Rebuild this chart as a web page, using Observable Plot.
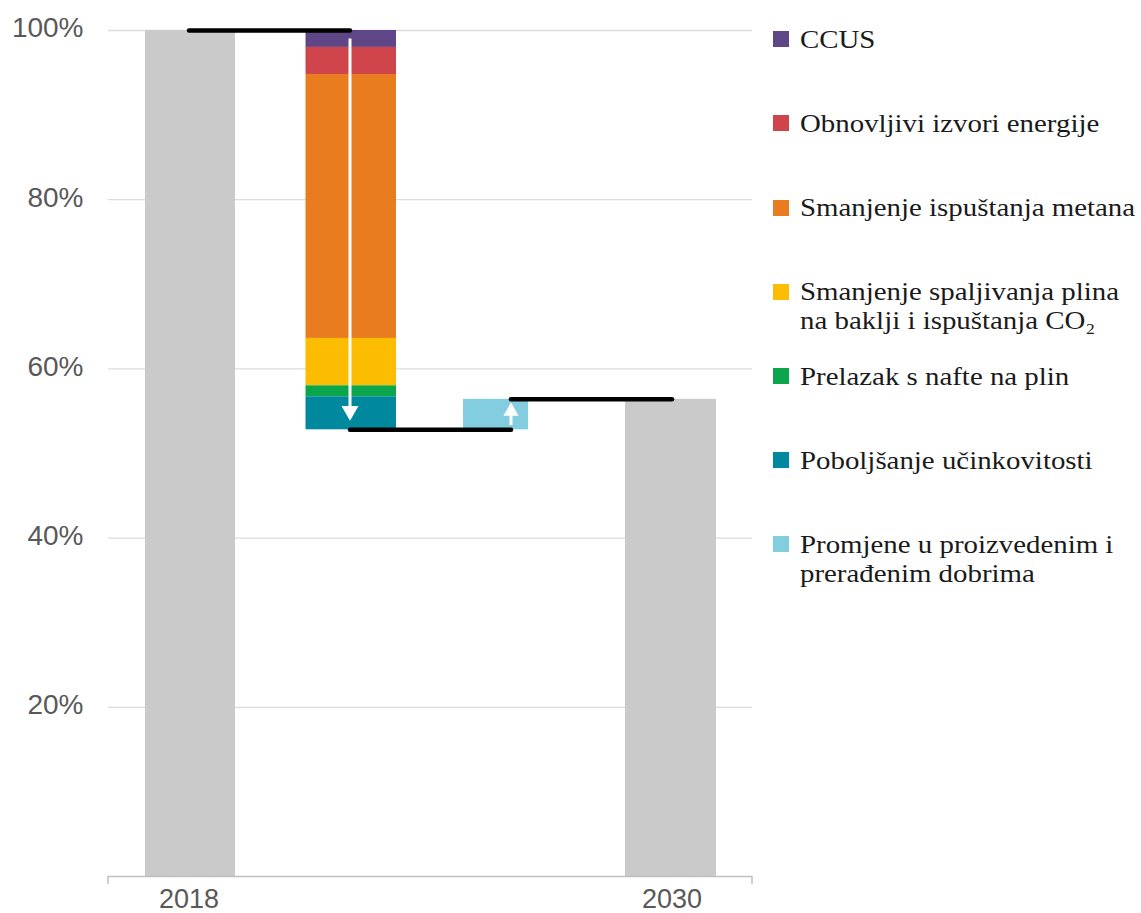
<!DOCTYPE html>
<html>
<head>
<meta charset="utf-8">
<script src="https://cdn.jsdelivr.net/npm/d3@7"></script>
<script src="https://cdn.jsdelivr.net/npm/@observablehq/plot@0.6"></script>
<style>
  html, body { margin: 0; padding: 0; background: #fff; }
  #wrap { position: relative; width: 1141px; height: 913px; overflow: hidden; }
  #chart { position: absolute; left: 0; top: 0; }
  .item { position: absolute; left: 773px; font-family: "Liberation Serif", "Times New Roman", serif; font-size: 26px; line-height: 29px; color: #1a1a1a; white-space: nowrap; }
  .item .sw { position: absolute; left: 0; width: 16px; height: 16px; }
  .item .tx { position: absolute; left: 27px; top: 0; transform: scaleX(1.11); transform-origin: 0 0; }
</style>
</head>
<body>
<div id="wrap"><div id="chart"></div><div id="legend"></div></div>
<script>
// ---- data ----
const categories = ["2018", "Smanjenja", "Promjene", "2030"];
const tickLabels = ["2018", "2030"];
const yTicks = [20, 40, 60, 80, 100];
const startValue = 100;
const reductionNames = [
  "CCUS",
  "Obnovljivi izvori energije",
  "Smanjenje ispuštanja metana",
  "Smanjenje spaljivanja plina\nna baklji i ispuštanja CO₂",
  "Prelazak s nafte na plin",
  "Poboljšanje učinkovitosti"
];
const reductionValues = [2.0, 3.2, 31.2, 5.6, 1.3, 3.9];
const increaseName = "Promjene u proizvedenim i\nprerađenim dobrima";
const increaseValue = 3.6;
const reductionColors = ["#5f4787", "#d0454c", "#e97c1f", "#fcbd00", "#0ba64b", "#00889e"];
const increaseColor = "#82cde0";
const totalColor = "#cacaca";

// ---- derived ----
let level = startValue;
const segments = reductionNames.map((name, i) => {
  const s = {name, y2: level, y1: level - reductionValues[i], fill: reductionColors[i]};
  level = s.y1;
  return s;
});
const low = level;
const high = low + increaseValue;
const startTotal = [{cat: categories[0], value: startValue}];
const endTotal = [{cat: categories[3], value: high}];
const increase = [{cat: categories[2], y1: low, y2: high}];
const connectors = [
  {x1: categories[0], x2: categories[1], y: startValue},
  {x1: categories[1], x2: categories[2], y: low},
  {x1: categories[2], x2: categories[3], y: high}
];

const endTicks = (index, scales, values, dims) => {
  const g = d3.create("svg:g");
  const y0 = dims.height - dims.marginBottom;
  for (const x of [dims.marginLeft, dims.width - dims.marginRight]) {
    g.append("line").attr("x1", x).attr("x2", x).attr("y1", y0).attr("y2", y0 + 8)
      .attr("stroke", "#bfbfbf").attr("stroke-width", 1.5);
  }
  return g.node();
};

const chart = Plot.plot({
  width: 760,
  height: 913,
  marginLeft: 108,
  marginRight: 8,
  marginTop: 30,
  marginBottom: 37,
  style: {fontFamily: "'Liberation Sans', Arial, sans-serif", background: "#fff"},
  x: {type: "band", domain: categories, padding: 0, axis: null},
  y: {domain: [0, 100], axis: null},
  marks: [
    Plot.gridY(yTicks, {stroke: "#dcdcdc", strokeOpacity: 1, strokeWidth: 1.3}),
    Plot.axisY(yTicks, {tickSize: 0, tickPadding: 25, tickFormat: d => d + "%", fontSize: 28, fill: "#595959", dy: -2}),
    Plot.barY(startTotal, {x: "cat", y: "value", fill: totalColor, insetLeft: 37, insetRight: 34}),
    Plot.barY(endTotal, {x: "cat", y: "value", fill: totalColor, insetLeft: 34, insetRight: 36}),
    Plot.barY(segments, {x: () => categories[1], y1: "y1", y2: "y2", fill: "fill", insetLeft: 36.5, insetRight: 34}),
    Plot.barY(increase, {x: "cat", y1: "y1", y2: "y2", fill: increaseColor, insetLeft: 33, insetRight: 63}),
    Plot.ruleY([0], {stroke: "#bfbfbf", strokeWidth: 1.5}),
    endTicks,
    Plot.axisX(tickLabels, {tickSize: 0, tickPadding: 12, fontSize: 27, fill: "#595959"}),
    Plot.link(connectors, {x1: "x1", x2: "x2", y1: "y", y2: "y", stroke: "#000", strokeWidth: 4.5, strokeLinecap: "round"}),
    // arrows
    Plot.ruleX([{cat: categories[1], y1: 99, y2: low + 2}], {x: "cat", y1: "y1", y2: "y2", stroke: "#fff", strokeWidth: 3}),
    Plot.dot([{cat: categories[1], y: low + 1.1}], {x: "cat", y: "y", symbol: "triangle", r: 6.3, fill: "#fff", stroke: "none", rotate: 180, dy: -9.5}),
    Plot.ruleX([{cat: categories[2], y1: low + 0.5, y2: high - 1.5}], {x: "cat", y1: "y1", y2: "y2", stroke: "#fff", strokeWidth: 3}),
    Plot.dot([{cat: categories[2], y: high - 0.35}], {x: "cat", y: "y", symbol: "triangle", r: 5.6, fill: "#fff", stroke: "none", dy: 9})
  ]
});
document.getElementById("chart").appendChild(chart);

// ---- legend ----
const legendItems = reductionNames.map((n, i) => ({name: n, color: reductionColors[i]}))
  .concat([{name: increaseName, color: increaseColor}]);
const legend = d3.select("#legend");
legendItems.forEach((d, i) => {
  const baseline = 48 + 84.2 * i;
  const item = legend.append("div").attr("class", "item").style("top", (baseline - 23.3) + "px");
  item.append("div").attr("class", "sw").style("background", d.color).style("top", "6.5px");
  const tx = item.append("div").attr("class", "tx");
  d.name.split("\n").forEach(line => tx.append("div").text(line));
});
</script>
</body>
</html>
